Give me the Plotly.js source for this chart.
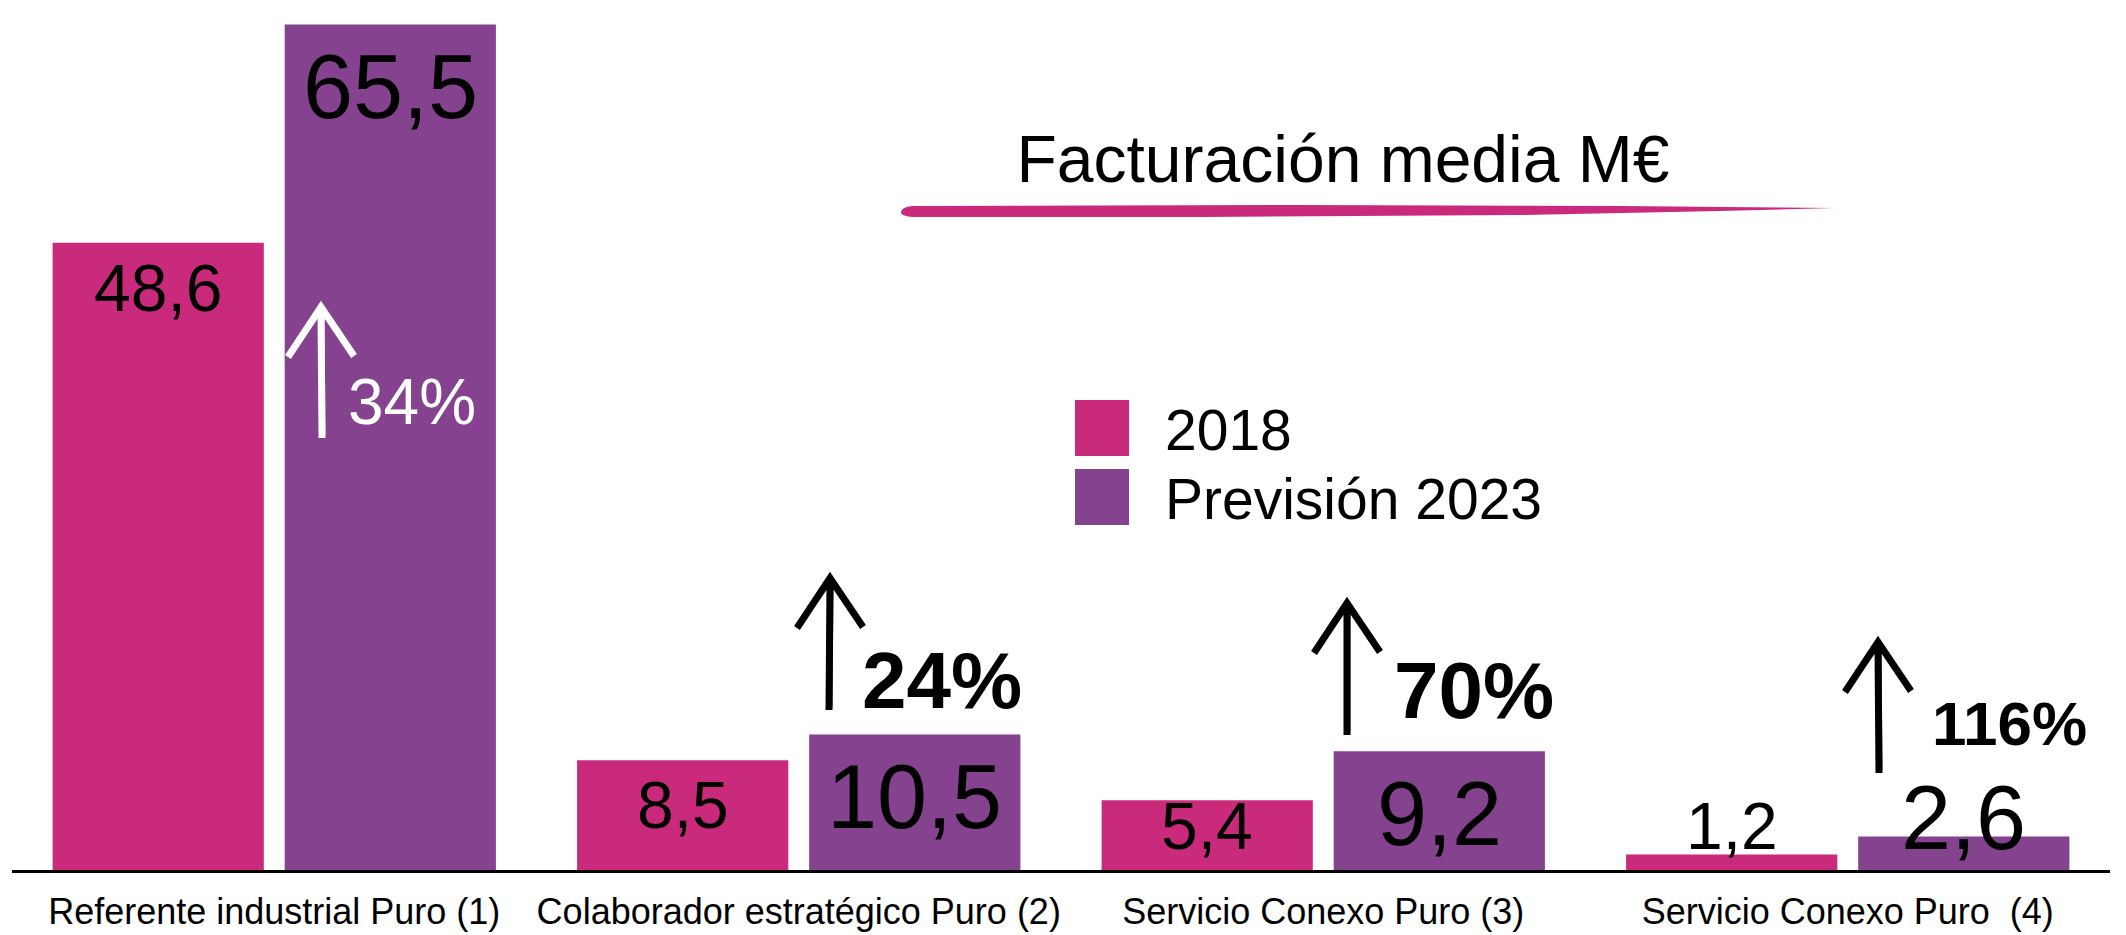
<!DOCTYPE html>
<html>
<head>
<meta charset="utf-8">
<script src="https://cdn.plot.ly/plotly-3.0.1.min.js"></script>
<style>
  html, body { margin: 0; padding: 0; background: #ffffff; }
  #chart { width: 2126px; height: 935px; }
</style>
</head>
<body>
<div id="chart"></div>
<script>
const categories = [
  "Referente industrial Puro (1)",
  "Colaborador estratégico Puro (2)",
  "Servicio Conexo Puro (3)",
  "Servicio Conexo Puro  (4)",
];
const seriesNames = ["2018", "Previsión 2023"];
const values2018 = [48.6, 8.5, 5.4, 1.2];
const values2023 = [65.5, 10.5, 9.2, 2.6];
const growthLabels = ["34%", "24%", "70%", "116%"];
const chartTitle = "Facturación media M€";

const pink = "#ca2a7b";
const purple = "#84428f";
const fontFamily = "Liberation Sans, Arial, Helvetica, sans-serif";

const W = 2126;
const H = 935;
const margin = { l: 12, r: 16, t: 0, b: 65 };
const plotW = W - margin.l - margin.r;
const plotH = H - margin.t - margin.b;
const yMax = 67.4;
const bargap = 0.115;
const bargroupgap = 0.09;

// screen pixel -> paper coords (for the decorations)
const px = (x) => (x - margin.l) / plotW;
const py = (y) => (margin.t + plotH - y) / plotH;

const ppu = plotH / yMax;
const slotPx = (plotW / categories.length) * (1 - bargap) / 2;

function fmt(v) {
  return v.toFixed(1).replace(".", ",");
}

function valueLabels(values, side, size) {
  return values.map((v, i) => {
    const baselineAbove = Math.max(v * ppu - 1.05 * size, 20);
    return {
      x: categories[i],
      y: 0,
      xref: "x",
      yref: "y",
      xanchor: "center",
      yanchor: "bottom",
      xshift: side * slotPx / 2,
      yshift: baselineAbove - 0.21 * size - 1,
      showarrow: false,
      text: fmt(v),
      font: { family: fontFamily, size: size, color: "#000000" },
    };
  });
}

// hand drawn arrows: shaft bottom (x0, y0) and apex (x1, y1), screen px
const arrowSpecs = [
  { x0: 322, y0: 438, x1: 321, y1: 307, color: "#ffffff" },
  { x0: 829, y0: 710, x1: 830, y1: 578, color: "#000000" },
  { x0: 1347, y0: 735, x1: 1347, y1: 603, color: "#000000" },
  { x0: 1879, y0: 773, x1: 1878, y1: 642, color: "#000000" },
];

const growthStyles = [
  { x: 347, base: 426, size: 64, bold: false, color: "#ffffff" },
  { x: 861, base: 709, size: 80, bold: true, color: "#000000" },
  { x: 1393, base: 719, size: 80, bold: true, color: "#000000" },
  { x: 1931, base: 746, size: 62, bold: true, color: "#000000" },
];

const shapes = [];
arrowSpecs.forEach((a) => {
  shapes.push({
    type: "path",
    xref: "paper",
    yref: "paper",
    path:
      `M${px(a.x0)},${py(a.y0)} L${px(a.x1)},${py(a.y1 + 4)} ` +
      `M${px(a.x1 - 33)},${py(a.y1 + 50)} L${px(a.x1)},${py(a.y1)} L${px(a.x1 + 33)},${py(a.y1 + 49)}`,
    line: { color: a.color, width: 7 },
  });
  shapes.push({
    type: "path",
    xref: "paper",
    yref: "paper",
    path:
      `M${px(a.x0 + 2)},${py(a.y0 - 3)} L${px(a.x1 + 2)},${py(a.y1 + 8)} ` +
      `M${px(a.x1 - 30)},${py(a.y1 + 46)} L${px(a.x1 + 1)},${py(a.y1 + 3)} L${px(a.x1 + 31)},${py(a.y1 + 46)}`,
    line: { color: a.color, width: 3 },
    opacity: 0.7,
  });
});

// brush stroke under the title
shapes.push({
  type: "path",
  xref: "paper",
  yref: "paper",
  path:
    `M${px(912)},${py(206)} L${px(1300)},${py(205)} L${px(1620)},${py(206)} L${px(1834)},${py(208)} ` +
    `L${px(1720)},${py(211)} L${px(1520)},${py(215)} L${px(1200)},${py(217)} L${px(912)},${py(217)} ` +
    `Q${px(900)},${py(216)} ${px(901)},${py(212)} Q${px(902)},${py(207)} ${px(912)},${py(206)} Z`,
  fillcolor: pink,
  line: { width: 0 },
});

// legend swatches
[pink, purple].forEach((c, i) => {
  shapes.push({
    type: "rect",
    xref: "paper",
    yref: "paper",
    x0: px(1075),
    x1: px(1129),
    y0: py(456 + i * 69),
    y1: py(400 + i * 69),
    fillcolor: c,
    line: { width: 0 },
  });
});

const annotations = [
  ...valueLabels(values2018, -1, 66),
  ...valueLabels(values2023, 1, 90),
];

growthLabels.forEach((g, i) => {
  const s = growthStyles[i];
  annotations.push({
    x: px(s.x - 1),
    y: py(s.base + 0.21 * s.size + 1),
    xref: "paper",
    yref: "paper",
    xanchor: "left",
    yanchor: "bottom",
    showarrow: false,
    text: s.bold ? `<b>${g}</b>` : g,
    font: { family: fontFamily, size: s.size, color: s.color },
  });
});

seriesNames.forEach((name, i) => {
  annotations.push({
    x: px(1163),
    y: py(451 + i * 69 + 0.21 * 57 + 1),
    xref: "paper",
    yref: "paper",
    xanchor: "left",
    yanchor: "bottom",
    showarrow: false,
    text: name,
    font: { family: fontFamily, size: 57, color: "#000000" },
  });
});

const traces = [
  {
    type: "bar",
    name: seriesNames[0],
    x: categories,
    y: values2018,
    marker: { color: pink, line: { width: 0 } },
    hoverinfo: "skip",
  },
  {
    type: "bar",
    name: seriesNames[1],
    x: categories,
    y: values2023,
    marker: { color: purple, line: { width: 0 } },
    hoverinfo: "skip",
  },
];

Plotly.newPlot(
  "chart",
  traces,
  {
    width: W,
    height: H,
    margin: margin,
    paper_bgcolor: "#ffffff",
    plot_bgcolor: "#ffffff",
    font: { family: fontFamily, color: "#000000" },
    showlegend: false,
    barmode: "group",
    bargap: bargap,
    bargroupgap: bargroupgap,
    title: {
      text: chartTitle,
      font: { family: fontFamily, size: 66, color: "#000000" },
      xref: "container",
      yref: "container",
      x: 1343 / W,
      xanchor: "center",
      y: 1 - 182 / H,
      yanchor: "bottom",
    },
    xaxis: {
      type: "category",
      range: [-0.5, categories.length - 0.5],
      showline: true,
      linecolor: "#000000",
      linewidth: 3,
      showgrid: false,
      zeroline: false,
      ticks: "",
      ticklabelstandoff: 8,
      tickfont: { family: fontFamily, size: 36, color: "#000000" },
      fixedrange: true,
    },
    yaxis: {
      range: [0, yMax],
      visible: false,
      showgrid: false,
      zeroline: false,
      fixedrange: true,
    },
    shapes: shapes,
    annotations: annotations,
  },
  { staticPlot: true },
);
</script>
</body>
</html>
